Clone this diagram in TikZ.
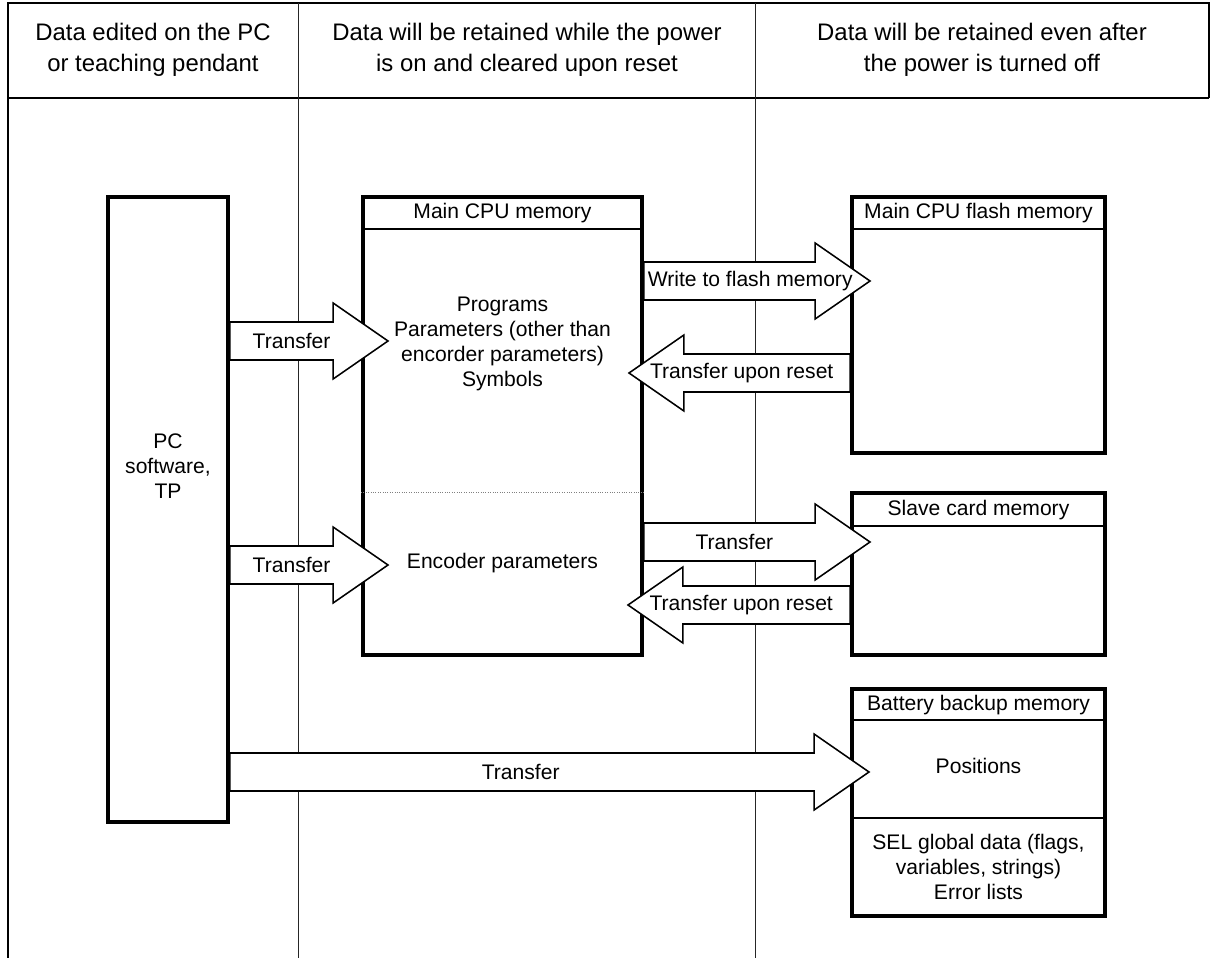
\documentclass[tikz,border=0pt]{standalone}
\usepackage{fontspec}
\setmainfont{Liberation Sans}
\usetikzlibrary{calc,fit,positioning}

% block arrow: [label pos]{label name}{start}{tip}{label}
\newcommand{\blockarrow}[5][0.42]{%
  \draw[flowarrow] let \p1=(#3), \p2=(#4), \p3=($(#4)!39pt!(#3)$) in
    (\x1,\y1+13.5pt) -- (\x3,\y1+13.5pt) -- (\x3,\y1+27pt) -- (\x2,\y1)
    -- (\x3,\y1-27pt) -- (\x3,\y1-13.5pt) -- (\x1,\y1-13.5pt) -- cycle;
  \node[boxtext] (#2) at ($(#3)!#1!(#4)$) {#5};
}

\begin{document}
\begin{tikzpicture}[x=0.025cm, y=-0.025cm,
    frame/.style={line width=1.4pt},
    colline/.style={black!85, line width=0.7pt},
    membox/.style={draw, line width=2.8pt, inner sep=0pt},
    titlesep/.style={line width=1.3pt},
    flowarrow/.style={draw, fill=white, line width=1.1pt, line join=miter},
    boxtext/.style={font=\fontsize{15}{17.8}\selectfont, align=center},
    headtext/.style={font=\fontsize{17}{22}\selectfont, align=center}]
  \useasboundingbox (0,0) rectangle (1212,958);

  % table frame, header row and column lines
  \draw[frame] (8,958) -- (8,3);
  \draw[line width=2pt] (7,3) -- (1210,3);
  \draw[frame] (1209,3) -- (1209,98);
  \draw[line width=1pt] (8,98) -- (1209,98);
  \foreach \x in {298,755}
    \draw[colline] (\x,3) -- (\x,958);

  \node[headtext] (hdpc) at (153,50) {Data edited on the PC\\or teaching pendant};
  \node[headtext] (hdram) at (527,50) {Data will be retained while the power\\is on and cleared upon reset};
  \node[headtext] (hdrom) at (982,50) {Data will be retained even after\\the power is turned off};

  % memory boxes
  \node[membox, fit={(108,197) (228,822)}] (pc) {};
  \node[membox, fit={(363,197) (642,655)}] (main) {};
  \node[membox, fit={(852,197) (1105,453)}] (flash) {};
  \node[membox, fit={(852,493) (1105,655)}] (slave) {};
  \node[membox, fit={(852,689) (1105,916)}] (battery) {};

  % title rows and sections
  \foreach \b/\y in {main/229, flash/229, slave/526, battery/720, battery/818}
    \draw[titlesep] (\b.west |- 0,\y) -- (\b.east |- 0,\y);
  \draw[gray, densely dotted, line width=0.7pt] (main.west |- 0,492) -- (main.east |- 0,492);

  \node[boxtext] (pctext) at (pc.north |- 0,466) {PC\\software,\\TP};
  \node[boxtext] (maintitle) at (main.north |- 0,213) {Main CPU memory};
  \node[boxtext] (progs) at (main.north |- 0,344) {Programs\\Parameters (other than\\encorder parameters)\\Symbols};
  \node[boxtext] (encpar) at (main.north |- 0,563) {Encoder parameters};
  \node[boxtext] (flashtitle) at (flash.north |- 0,213) {Main CPU flash memory};
  \node[boxtext] (slavetitle) at (slave.north |- 0,510) {Slave card memory};
  \node[boxtext] (batttitle) at (battery.north |- 0,705) {Battery backup memory};
  \node[boxtext] (positions) at (battery.north |- 0,766) {Positions};
  \node[boxtext] (seldata) at (battery.north |- 0,867) {SEL global data (flags,\\variables, strings)\\Error lists};

  % arrow tips
  \coordinate (tipprog) at (388,341);
  \coordinate (tipenc) at (388,565);
  \coordinate (tipflash) at (870,281);
  \coordinate (tipback) at (629,373);
  \coordinate (tipslave) at (870,542);
  \coordinate (tipsback) at (628,605);
  \coordinate (tipbatt) at (869,772);

  % transfers
  \blockarrow[0.39]{trprog}{pc.east |- tipprog}{tipprog}{Transfer}
  \blockarrow[0.39]{trenc}{pc.east |- tipenc}{tipenc}{Transfer}
  \blockarrow[0.47]{wrflash}{main.east |- tipflash}{tipflash}{Write to flash memory}
  \blockarrow[0.49]{rsflash}{flash.west |- tipback}{tipback}{Transfer upon reset}
  \blockarrow[0.40]{trslave}{main.east |- tipslave}{tipslave}{Transfer}
  \blockarrow[0.49]{rsslave}{slave.west |- tipsback}{tipsback}{Transfer upon reset}
  \blockarrow[0.455]{trbatt}{pc.east |- tipbatt}{tipbatt}{Transfer}
\end{tikzpicture}
\end{document}
